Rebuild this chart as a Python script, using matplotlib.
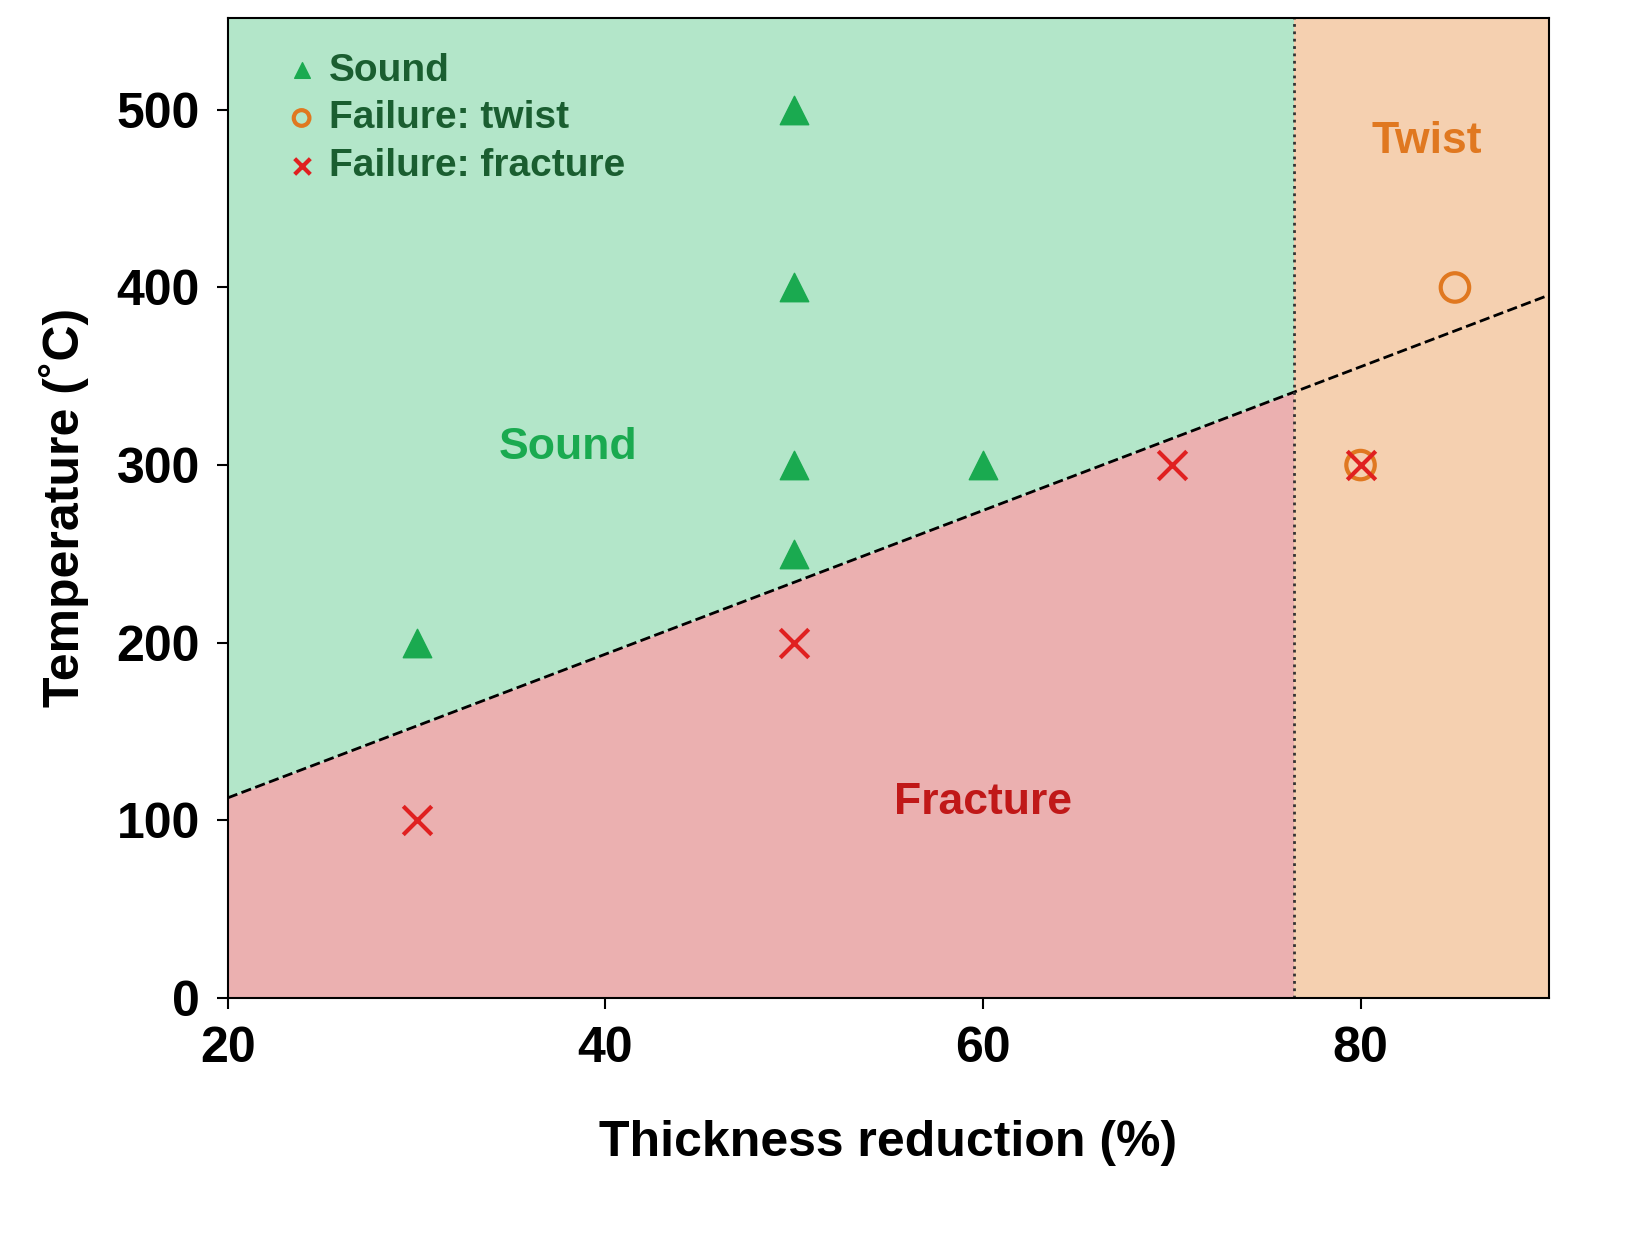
import matplotlib
matplotlib.use("Agg")
import matplotlib.pyplot as plt
import numpy as np

plt.rcParams['font.family'] = ['Liberation Sans', 'DejaVu Sans']
plt.rcParams['font.weight'] = 'bold'

sound_x = [30, 50, 50, 50, 50, 60]
sound_y = [200, 500, 400, 300, 250, 300]
twist_x = [85, 80]
twist_y = [400, 300]
fract_x = [30, 50, 70, 80]
fract_y = [100, 200, 300, 300]
boundary_x = [20, 90]
boundary_y = [112.6, 395.8]
twist_limit = 76.5
xlim = (20, 90)
ylim = (0, 552)

fig = plt.figure(figsize=(16.5, 12.52), dpi=100)
ax = fig.add_axes([0.138, 0.203, 0.801, 0.783])
ax.set_xlim(*xlim); ax.set_ylim(*ylim)

bx = np.array([xlim[0], twist_limit])
by = np.interp(bx, boundary_x, boundary_y)
ax.fill_between(bx, by, ylim[1], color='#b3e6c9', lw=0, zorder=0)
ax.fill_between(bx, 0, by, color='#ebb0b0', lw=0, zorder=0)
ax.axvspan(twist_limit, xlim[1], color='#f5d0b0', lw=0, zorder=0)
ax.plot(boundary_x, boundary_y, 'k--', lw=2, zorder=1)
ax.axvline(twist_limit, color='#333333', ls=':', lw=2, zorder=1)

ax.scatter(sound_x, sound_y, marker='^', s=420, color='#1aaa50', zorder=3, label='Sound')
ax.scatter(twist_x, twist_y, marker='o', s=420, facecolors='none', edgecolors='#e07820', linewidths=3, zorder=3, label='Failure: twist')
ax.scatter(fract_x, fract_y, marker='x', s=420, color='#e02020', linewidths=3, zorder=4, label='Failure: fracture')

leg = ax.legend(loc='upper left', frameon=False, fontsize=28, handletextpad=-0.3,
                borderaxespad=0.5, labelspacing=0.3, markerscale=0.55)
for t in leg.get_texts():
    t.set_color('#1a5e30')

ax.text(38, 310, 'Sound', color='#1aaa50', fontsize=32, fontweight='bold', ha='center', va='center')
ax.text(60, 110, 'Fracture', color='#c01818', fontsize=32, fontweight='bold', ha='center', va='center')
ax.text(83.5, 482, 'Twist', color='#e07820', fontsize=32, fontweight='bold', ha='center', va='center')

ax.set_xticks([20, 40, 60, 80])
ax.set_yticks([0, 100, 200, 300, 400, 500])
ax.tick_params(labelsize=36, length=8, width=1.5, pad=12)
ax.set_xlabel('Thickness reduction (%)', fontsize=36, fontweight='bold', labelpad=35)
ax.set_ylabel('Temperature (˚C)', fontsize=36, fontweight='bold', labelpad=20)
for s in ax.spines.values():
    s.set_linewidth(1.5)
fig.savefig('out.png', dpi=100)
